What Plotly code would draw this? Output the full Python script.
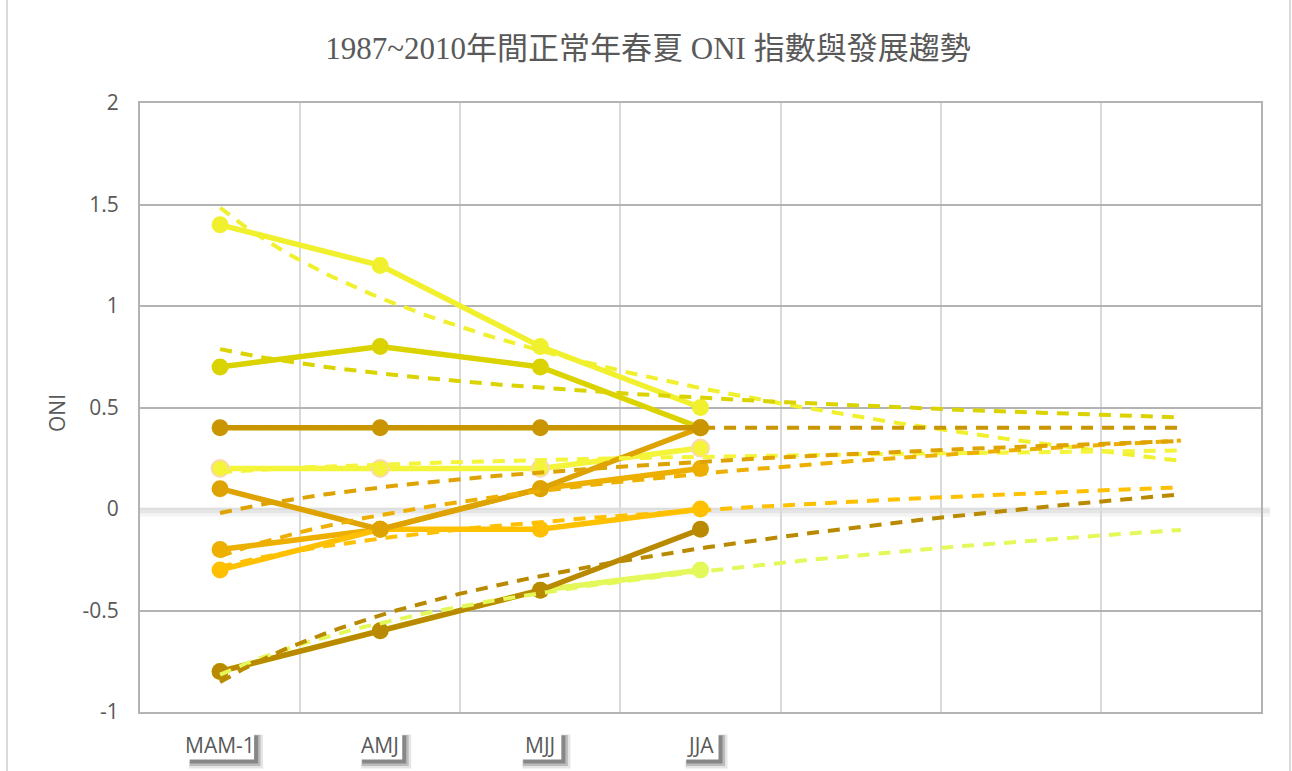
import numpy as np
import plotly.graph_objects as go

# Season labels (three-month running means); the axis keeps three empty slots
# on the right so the trendlines can be projected forward.
seasons = ["MAM-1", "AMJ", "MJJ", "JJA"]
n_slots = 7

# ONI values for each normal year, in drawing order (bottom to top)
oni_lime = [-0.8, -0.6, -0.4, -0.3]
oni_high = [1.4, 1.2, 0.8, 0.5]
oni_olive = [0.7, 0.8, 0.7, 0.4]
oni_pale = [0.2, 0.2, 0.2, 0.3]
oni_rise = [-0.2, -0.1, 0.1, 0.2]
oni_orange = [-0.3, -0.1, -0.1, 0.0]
oni_dip = [0.1, -0.1, 0.1, 0.4]
oni_flat = [0.4, 0.4, 0.4, 0.4]
oni_low = [-0.8, -0.6, -0.4, -0.1]

series = [
    (oni_lime, "#E4F85A", None),
    (oni_high, "#F0F02E", None),
    (oni_olive, "#DBD300", None),
    (oni_pale, "#F4F43A", "#FAD8B2"),
    (oni_rise, "#EDB000", None),
    (oni_orange, "#FFC000", None),
    (oni_dip, "#DEA300", None),
    (oni_flat, "#C99500", None),
    (oni_low, "#B98A00", None),
]

FONT = "Open Sans, Noto Sans, sans-serif"
TEXT = "#595959"

fig = go.Figure()
x_pts = np.arange(1, len(seasons) + 1)

for vals, color, edge in series:
    fig.add_trace(go.Scatter(
        x=x_pts, y=vals, mode="lines+markers",
        line=dict(color=color, width=5.5),
        marker=dict(size=17, color=color,
                    line=dict(color=edge or color, width=2 if edge else 0)),
        showlegend=False, hoverinfo="skip",
    ))

# Logarithmic trendlines fitted to each series, projected three periods ahead
x_fit = np.linspace(1, n_slots, 121)
for vals, color, _ in series:
    b, a = np.polyfit(np.log(x_pts), np.array(vals, dtype=float), 1)
    fig.add_trace(go.Scatter(
        x=x_fit, y=a + b * np.log(x_fit), mode="lines",
        line=dict(color=color, width=4, dash="12px,9px"),
        showlegend=False, hoverinfo="skip",
    ))

# Soft shadow under the zero line
for dy, w, op in [(-0.014, 10, 0.045), (-0.009, 5, 0.06)]:
    fig.add_shape(type="line", xref="paper", yref="y", x0=0, x1=1.008,
                  y0=dy, y1=dy, layer="below",
                  line=dict(color=f"rgba(0,0,0,{op})", width=w))

# Outer chart frame
for px in (7, 1290):
    xp = (px - 140) / 1121
    fig.add_shape(type="line", xref="paper", yref="paper", x0=xp, x1=xp,
                  y0=-0.2, y1=1.2, line=dict(color="#d9d9d9", width=2))

# Category labels on a white box with a soft drop shadow
label_y = -0.055
label_w = {"MAM-1": 68, "AMJ": 44, "MJJ": 42, "JJA": 36}
for i, lab in enumerate(seasons, start=1):
    hw = label_w[lab] / 2
    for off, grow, op in [(6, 3, 0.12), (5, 1.5, 0.22), (4, 0, 0.35)]:
        fig.add_shape(type="rect", xref="x", yref="paper",
                      xsizemode="pixel", ysizemode="pixel",
                      xanchor=i, yanchor=label_y,
                      x0=-hw + off - grow, x1=hw + off + grow,
                      y0=-14 - off - grow, y1=14 - off + grow,
                      line=dict(width=0), fillcolor=f"rgba(40,40,40,{op})",
                      layer="above")
    fig.add_shape(type="rect", xref="x", yref="paper",
                  xsizemode="pixel", ysizemode="pixel",
                  xanchor=i, yanchor=label_y, x0=-hw, x1=hw, y0=-14, y1=14,
                  line=dict(width=0), fillcolor="white", layer="above")
    fig.add_annotation(text=lab, x=i, xref="x", yref="paper", y=label_y,
                       yanchor="middle", showarrow=False,
                       font=dict(family=FONT, size=21, color=TEXT))

fig.add_annotation(text="ONI", textangle=-90, xref="paper", yref="paper",
                   x=(57 - 140) / 1121, y=(712 - 413) / 609, xanchor="center",
                   yanchor="middle", showarrow=False,
                   font=dict(family=FONT, size=21, color=TEXT))

fig.update_layout(
    width=1292, height=771,
    margin=dict(l=140, r=31, t=103, b=59),
    paper_bgcolor="white", plot_bgcolor="white",
    title=dict(text="1987~2010年間正常年春夏 ONI 指數與發展趨勢",
               x=648 / 1292, xanchor="center", y=1 - 48 / 771, yanchor="middle",
               font=dict(family="Liberation Serif, Noto Sans CJK TC, serif",
                         size=31, color=TEXT)),
    xaxis=dict(range=[0.5, n_slots + 0.5], showticklabels=False, showgrid=False,
               zeroline=False, showline=True, mirror=True, linecolor="#b3b3b3",
               linewidth=2,
               minor=dict(tickvals=[k + 0.5 for k in range(n_slots + 1)],
                          showgrid=True, gridcolor="#d9d9d9", gridwidth=1.5,
                          ticklen=0)),
    yaxis=dict(range=[-1, 2], tickvals=[-1, -0.5, 0, 0.5, 1, 1.5, 2],
               ticktext=["-1", "-0.5", "0", "0.5", "1", "1.5", "2"],
               showgrid=True, gridcolor="#b3b3b3", gridwidth=1.5,
               zeroline=True, zerolinecolor="#dedede", zerolinewidth=2,
               showline=True, mirror=True, linecolor="#b3b3b3", linewidth=2,
               ticklabelstandoff=15,
               tickfont=dict(family=FONT, size=21, color=TEXT)),
)

fig.write_html("out.html")
